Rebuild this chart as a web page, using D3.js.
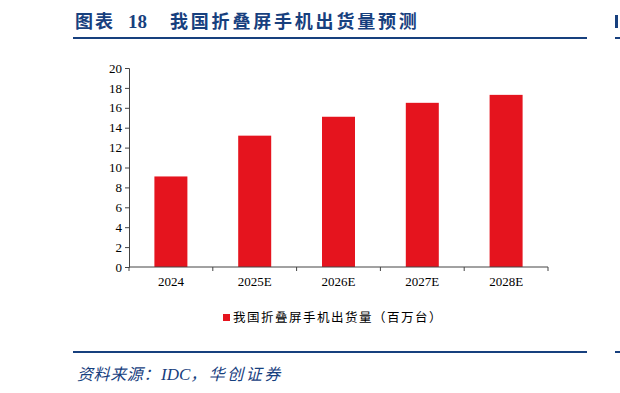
<!DOCTYPE html>
<html><head><meta charset="utf-8">
<script src="https://cdn.jsdelivr.net/npm/d3@7"></script>
<style>body{margin:0;background:#fff}svg{display:block}</style>
</head><body>
<svg id="c" width="620" height="393"></svg>
<script>
const categories = ["2024","2025E","2026E","2027E","2028E"];
const values = [9.1, 13.2, 15.1, 16.5, 17.3];
const yTicks = [0,2,4,6,8,10,12,14,16,18,20];
const titleLabel = "图表";
const titleNum = "18";
const titleText = "我国折叠屏手机出货量预测";
const seriesName = "我国折叠屏手机出货量（百万台）";
const sourceParts = ["资料来源：", "IDC", "，华创证券"];

const svg = d3.select("#c");
const blue = "#17407e";
const red = "#e5141e";
const serif = "'Liberation Serif','Times New Roman',serif";
const cjk = "'Noto Sans CJK SC','Noto Sans CJK JP',sans-serif";

// header
svg.append("text").attr("x",75).attr("y",28).attr("fill",blue).attr("font-weight","bold")
  .attr("font-size",18).attr("font-family",cjk).attr("letter-spacing",2).text(titleLabel);
svg.append("text").attr("x",128).attr("y",28).attr("fill",blue).attr("font-weight","bold")
  .attr("font-size",19).attr("font-family",serif).text(titleNum);
svg.append("text").attr("x",170).attr("y",28).attr("fill",blue).attr("font-weight","bold")
  .attr("font-size",18).attr("font-family",cjk).attr("letter-spacing",2.8).text(titleText);
svg.append("line").attr("x1",73).attr("x2",587).attr("y1",38).attr("y2",38).attr("stroke",blue).attr("stroke-width",2);
svg.append("line").attr("x1",615).attr("x2",620).attr("y1",38).attr("y2",38).attr("stroke",blue).attr("stroke-width",2);
svg.append("rect").attr("x",615).attr("y",15).attr("width",3).attr("height",13).attr("fill",blue);

// footer
svg.append("line").attr("x1",73).attr("x2",587).attr("y1",352).attr("y2",352).attr("stroke",blue).attr("stroke-width",2);
svg.append("line").attr("x1",615).attr("x2",620).attr("y1",352).attr("y2",352).attr("stroke",blue).attr("stroke-width",2);
const s = svg.append("text").attr("x",77).attr("y",380).attr("fill",blue).attr("font-style","italic");
s.append("tspan").attr("font-family",cjk).attr("font-size",16).attr("letter-spacing",0.6).text(sourceParts[0]);
s.append("tspan").attr("font-family",serif).attr("font-size",17).attr("dx",1).text(sourceParts[1]);
s.append("tspan").attr("font-family",cjk).attr("font-size",16).attr("letter-spacing",2.5).text(sourceParts[2]);

// chart
const x = d3.scaleBand().domain(categories).range([129,548]).paddingInner(0).paddingOuter(0);
const y = d3.scaleLinear().domain([0,20]).range([267,68]);

const bw = 33;
svg.append("g").selectAll("rect").data(values).join("rect")
  .attr("x",(d,i)=>x(categories[i])+x.bandwidth()/2-bw/2)
  .attr("y",d=>y(d)).attr("width",bw).attr("height",d=>y(0)-y(d)).attr("fill",red);

const ya = svg.append("g").attr("transform","translate(129,0)")
  .call(d3.axisLeft(y).tickValues(yTicks).tickSize(4).tickPadding(3));
ya.select(".domain").attr("stroke","#444");
ya.selectAll(".tick line").attr("stroke","#444");
ya.selectAll("text").attr("font-family",serif).attr("font-size",13).attr("fill","#000");

const xa = svg.append("g").attr("transform","translate(0,267)")
  .call(d3.axisBottom(x).tickSize(0).tickPadding(10));
xa.select(".domain").attr("stroke","#444").attr("d","M129,0H548");
xa.selectAll("text").attr("font-family",serif).attr("font-size",13).attr("fill","#000");
const bounds = categories.map(c=>x(c)).concat([x.range()[1]]);
svg.append("g").selectAll("line").data(bounds).join("line")
  .attr("x1",d=>d).attr("x2",d=>d).attr("y1",267).attr("y2",271).attr("stroke","#444");

// legend
svg.append("rect").attr("x",223).attr("y",314).attr("width",7).attr("height",7).attr("fill",red);
svg.append("text").attr("x",233).attr("y",322).attr("font-family",cjk).attr("font-size",12.5)
  .attr("letter-spacing",1.5).attr("fill","#000").text(seriesName);
</script>
</body></html>
